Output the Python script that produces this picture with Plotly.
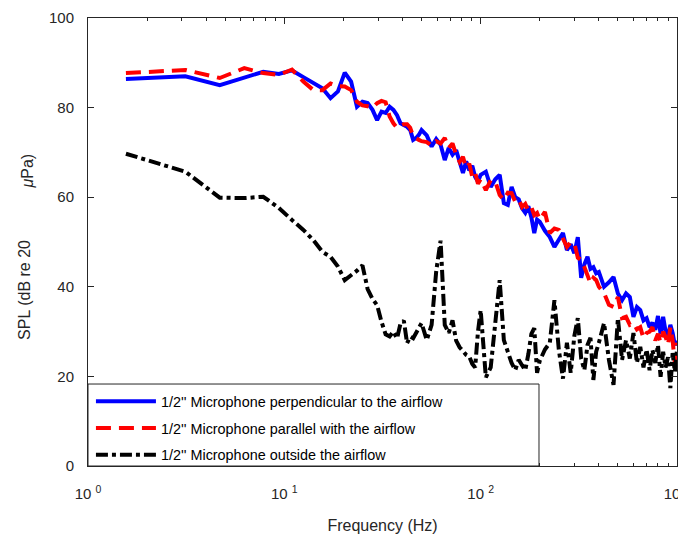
import plotly.graph_objects as go

# frequency bins (Hz)
freq = [1.56, 3.13, 4.69, 6.25, 7.81, 9.38, 10.94, 12.5, 14.06, 15.63, 17.19, 18.75, 20.31, 21.88,
        23.44, 25.0, 26.56, 28.13, 29.69, 31.25, 32.81, 34.38, 35.94, 37.5, 39.06, 40.63, 42.19,
        43.75, 45.31, 46.88, 48.44, 50.0,
        53.13, 56.25, 59.38, 62.5, 65.63, 68.75, 71.88, 75.0, 78.13, 81.25, 84.38, 87.5, 90.63,
        93.75, 96.88, 100.0,
        106.25, 112.5, 118.75, 125.0, 131.25, 137.5, 143.75, 150.0, 156.25, 162.5, 168.75, 175.0,
        181.25, 187.5, 193.75, 200.0,
        212.5, 225.0, 237.5, 250.0, 262.5, 275.0, 287.5, 300.0, 312.5, 325.0, 337.5, 350.0, 362.5,
        375.0, 387.5, 400.0,
        425, 450, 475, 500, 525, 550, 575, 600, 625, 650, 675, 700, 725, 750, 775, 800, 825, 850,
        875, 900, 925, 950, 975, 1000]

spl_perpendicular = [86.4, 87.0, 85.0, 86.6, 88.0, 87.5, 88.3, 86.8, 85.6, 84.3, 82.1, 83.6, 87.8, 85.8,
                     80.2, 81.3, 81.0, 79.5, 77.2, 79.1, 78.8, 80.2, 79.5, 78.3, 76.5, 76.1, 75.7,
                     75.0, 72.8, 73.2, 73.9, 75.0,
                     73.8, 71.3, 73.0, 71.7, 68.3, 71.0, 69.5, 70.5, 67.5, 65.4, 68.0, 66.0, 67.0,
                     64.5, 63.5, 65.0,
                     65.7, 62.3, 64.0, 65.0, 58.7, 58.3, 62.3, 60.0, 59.5, 57.5, 56.5, 58.0,
                     55.5, 52.0, 55.0, 54.5,
                     52.5, 51.1, 48.9, 50.5, 52.0, 48.2, 49.5, 47.5, 51.1, 42.0, 45.0, 46.7, 44.0,
                     44.4, 43.0, 43.3,
                     40.0, 41.0, 42.2, 38.5, 37.0, 38.5, 37.7, 33.3, 35.5, 34.8, 32.5, 33.0, 31.0, 32.0,
                     30.4, 33.5, 29.5, 33.3, 30.0, 29.0, 31.5, 29.7, 27.0, 28.0]

spl_parallel = [87.7, 88.4, 86.6, 88.8, 87.7, 87.3, 88.5, 85.8, 83.9, 83.9, 85.4, 84.8, 84.7, 83.9,
                81.3, 80.5, 80.3, 80.0, 81.0, 81.5, 81.2, 78.0, 76.5, 75.5, 76.0, 76.3, 76.3,
                75.5, 73.5, 73.0, 72.8, 72.5,
                72.3, 71.5, 72.5, 72.0, 73.2, 71.0, 72.0, 69.5, 67.9, 69.0, 66.5, 67.5, 64.5,
                65.5, 63.0, 64.0,
                61.6, 63.8, 63.5, 60.5, 59.4, 61.0, 60.9, 59.0, 59.5, 57.8, 58.5, 57.0,
                57.8, 56.0, 56.5, 55.0,
                56.7, 52.0, 53.0, 52.7, 50.5, 48.9, 50.0, 49.8, 46.5, 46.0, 44.4, 42.5, 40.8,
                42.0, 41.5, 40.0,
                38.6, 36.0, 35.5, 37.7, 33.0, 33.3, 31.5, 31.9, 30.5, 31.0, 28.5, 29.7, 30.0, 31.0,
                28.0, 29.5, 27.5, 30.0, 28.8, 27.0, 31.0, 28.0, 23.0, 27.5]

spl_outside = [69.7, 65.7, 59.9, 59.8, 60.1, 57.6, 54.9, 52.7, 50.4, 47.8, 46.7, 44.5, 41.5, 42.5,
               43.6, 44.8, 39.5, 37.3, 35.9, 32.2, 29.4, 28.9, 30.0, 28.5, 31.8, 32.4, 27.4,
               28.9, 28.5, 29.7, 30.8, 31.9,
               28.1, 31.5, 43.5, 50.3, 31.5, 29.7, 32.5, 28.0, 26.5, 25.5, 24.8, 24.4, 22.8,
               22.0, 30.0, 34.8,
               19.8, 22.0, 33.0, 41.5, 28.1, 25.5, 23.0, 21.4, 23.7, 22.5, 21.4, 25.0,
               29.5, 30.8, 20.8, 23.5,
               26.0, 27.5, 37.0, 26.0, 19.5, 27.5, 20.8, 29.0, 33.0, 24.0, 21.4, 27.0, 28.6,
               19.2, 25.5, 27.5,
               31.9, 23.7, 18.1, 33.0, 23.7, 28.1, 24.0, 29.7, 23.0, 26.6, 22.0, 26.0, 21.4, 25.9,
               23.0, 27.0, 19.9, 25.5, 22.0, 24.3, 17.4, 25.2, 21.0, 25.9]

names = ["1/2'' Microphone perpendicular to the airflow",
         "1/2'' Microphone parallel with the airflow",
         "1/2'' Microphone outside the airflow"]

x_ticks = [1, 10, 100, 1000]
x_ticktext = ['10 <sup>0</sup>', '10 <sup>1</sup>', '10 <sup>2</sup>', '10 <sup>3</sup>']
x_minor = [m * d for d in (1, 10, 100) for m in range(2, 10)]
y_ticks = [0, 20, 40, 60, 80, 100]

axis_col = '#262626'

fig = go.Figure()
fig.add_trace(go.Scatter(x=freq, y=spl_perpendicular, mode='lines', name=names[0], legendgroup='a',
                         line=dict(color='#0000ff', width=4)))
fig.add_trace(go.Scatter(x=freq, y=spl_parallel, mode='lines', name=names[1], legendgroup='b',
                         line=dict(color='#ff0000', width=4, dash='15px,8px')))
fig.add_trace(go.Scatter(x=freq, y=spl_outside, mode='lines', name=names[2], legendgroup='c',
                         line=dict(color='black', width=4, dash='dashdot')))

fig.update_xaxes(type='log', range=[0, 3], automargin=False,
                 tickvals=x_ticks, ticktext=x_ticktext, ticklabeloverflow='allow',
                 ticks='inside', ticklen=6, tickcolor=axis_col, ticklabelstandoff=14,
                 minor=dict(tickvals=x_minor, ticks='inside', ticklen=3, tickcolor=axis_col,
                            showgrid=False),
                 showline=True, linecolor=axis_col, linewidth=1, mirror='ticks',
                 showgrid=False, zeroline=False,
                 title=dict(text='Frequency (Hz)', font=dict(size=16), standoff=18))
fig.update_yaxes(range=[0, 100], tickvals=y_ticks, automargin=False,
                 ticks='inside', ticklen=6, tickcolor=axis_col, ticklabelstandoff=10,
                 ticklabeloverflow='allow',
                 showline=True, linecolor=axis_col, linewidth=1, mirror='ticks',
                 showgrid=False, zeroline=False)

# y title, rendered in two pieces like the original
fig.add_annotation(text='SPL (dB re 20', xref='paper', yref='paper', x=-0.107, y=0.393,
                   xanchor='center', yanchor='middle',
                   textangle=-90, showarrow=False, font=dict(size=16))
fig.add_annotation(text='<i>μ</i>Pa)', xref='paper', yref='paper', x=-0.103, y=0.658,
                   xanchor='center', yanchor='middle',
                   textangle=-90, showarrow=False, font=dict(size=16))

# legend box
fig.add_shape(type='rect', xref='paper', yref='paper', x0=0, x1=0.7657, y0=0, y1=0.183,
              fillcolor='white', line=dict(color=axis_col, width=1), layer='above')

# page body adds 8px offset, so the figure is 8px smaller
fig.update_layout(width=678, height=528,
                  margin=dict(l=80, r=9, t=10, b=70, autoexpand=False),
                  plot_bgcolor='white', paper_bgcolor='white',
                  font=dict(family='Liberation Sans, Arial, sans-serif', size=15, color=axis_col),
                  legend=dict(x=0.005, y=0.18, xanchor='left', yanchor='top',
                              bgcolor='rgba(0,0,0,0)', font=dict(size=14.4, color='black'),
                              itemwidth=60, tracegroupgap=5))

fig.write_html("out.html")
